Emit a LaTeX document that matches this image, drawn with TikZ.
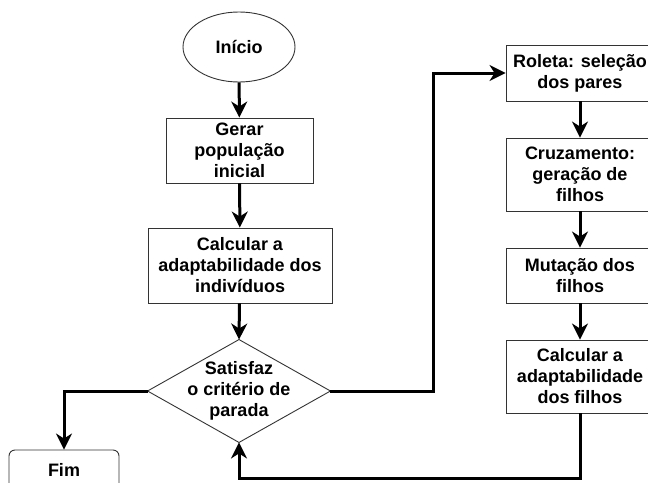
\documentclass[tikz,border=0pt]{standalone}
\usepackage{fontspec}
\setmainfont{Liberation Sans}
\usepackage{tikz}
\usetikzlibrary{arrows.meta,positioning,shapes.geometric}

\begin{document}
\begin{tikzpicture}[x=1pt,y=-1pt,
  box/.style={draw=black!80, line width=0.9pt, fill=white, align=center, inner sep=2pt,
    font=\fontsize{18}{21}\selectfont\bfseries},
  arr/.style={-{Stealth[length=16pt,width=16pt,inset=5pt]}, line width=3pt},
  losango/.style={draw=black!80, line width=0.9pt, fill=white}
]
\useasboundingbox (0,0) rectangle (648,482);
\clip (0,0) rectangle (648,482);
% left column
\node[box, ellipse, minimum width=112pt, minimum height=70pt] (inicio) at (239,47) {Início};
\node[box, minimum width=147pt, minimum height=65pt] (gerar) at (239.5,150.5) {Gerar\\população\\inicial};
\node[box, minimum width=184pt, minimum height=75pt] (calc) at (240,265.5) {Calcular a\\adaptabilidade dos\\indivíduos};
\node[box, draw=none, fill=none, minimum width=182pt, minimum height=102pt, inner sep=0pt] (sat) at (239,391) {};
\draw[losango] (sat.north) -- (sat.east) -- (sat.south) -- (sat.west) -- cycle;
\node[box, draw=none, fill=none] (sattxt) at (sat.center) {Satisfaz\\o critério de\\parada};
\node[box, rounded corners=6pt, minimum width=110pt, minimum height=40pt] (fim) at (64,470) {Fim};
% right column
\node[box, minimum width=148pt, minimum height=56pt] (roleta) at (580,73) {Roleta: seleção\\dos pares};
\node[box, minimum width=148pt, minimum height=73pt] (cruz) at (580,174.5) {Cruzamento:\\geração de\\filhos};
\node[box, minimum width=148pt, minimum height=55pt] (mut) at (580,275.5) {Mutação dos\\filhos};
\node[box, minimum width=148pt, minimum height=73pt] (calcf) at (580,376.5) {Calcular a\\adaptabilidade\\dos filhos};
\coordinate (volta) at (433,391);
\coordinate (base) at (580,478);
% connectors
\draw[arr] (inicio) -- (gerar);
\draw[arr] (gerar) -- (calc);
\draw[arr] (calc) -- (sat.north);
\draw[arr] (sat.west) -| (fim.north);
\draw[arr] (sat.east) -- (volta) |- (roleta.west);
\draw[arr] (roleta) -- (cruz);
\draw[arr] (cruz) -- (mut);
\draw[arr] (mut) -- (calcf);
\draw[arr] (calcf.south) -- (base) -| (sat.south);
\end{tikzpicture}
\end{document}
